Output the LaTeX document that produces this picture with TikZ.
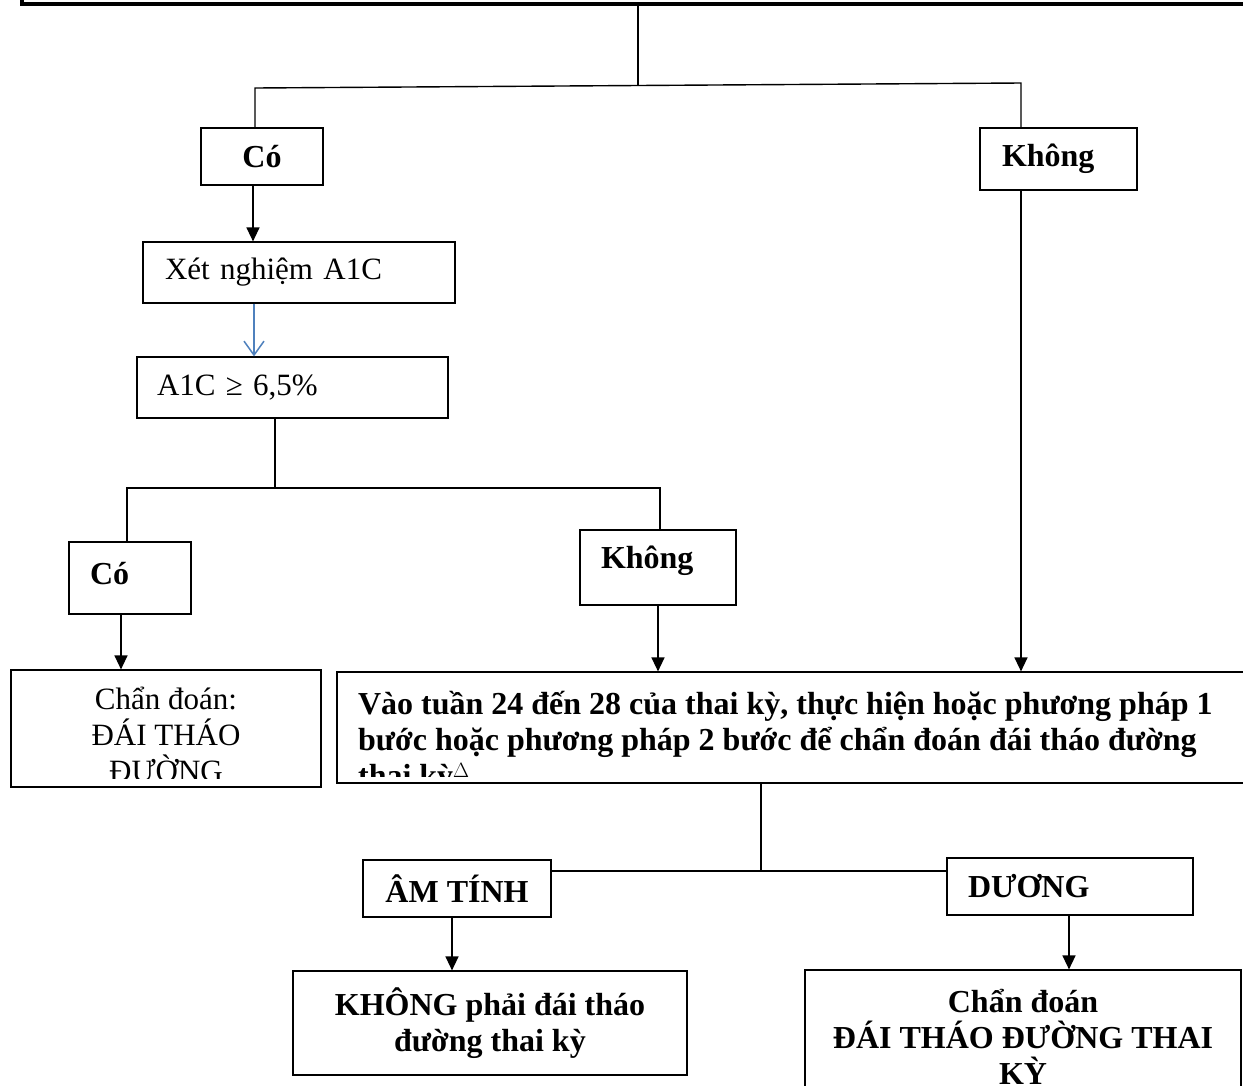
\documentclass[tikz,border=0pt]{standalone}
\usepackage{fontspec}
\setmainfont{Liberation Serif}
\usetikzlibrary{arrows.meta}
\tikzset{>={Triangle[width=13pt,length=14pt]}}
\definecolor{arrowblue}{RGB}{79,129,189}

\begin{document}
\begin{tikzpicture}[x=1pt, y=-1pt, line width=1.4pt,
    box/.style={draw, line width=1.2pt, inner ysep=0pt},
    txt/.style={font=\fontsize{31}{36}\selectfont},
    btxt/.style={font=\fontsize{32}{36}\selectfont\bfseries}]
  \useasboundingbox (0,0) rectangle (1243,1085);
  % frame at the top
  \draw[line width=4pt] (22,-60) rectangle (1300,4);
  \coordinate (top) at (638,4);
  % boxes
  \node[box, btxt, minimum width=122pt, minimum height=57pt] (co1) at (262,156.5) {Có};
  \node[box, btxt, minimum height=62pt, text width=113pt, inner xsep=22pt, align=left] (khong1) at (1058.5,159) {Không};
  \node[box, txt, minimum height=61pt, text width=268pt, inner xsep=22pt, align=left] (xet) at (299,272.5) {Xét nghiệm A1C};
  \node[box, txt, minimum height=61pt, text width=271pt, inner xsep=20pt, align=left] (a1c) at (292.5,387.5) {A1C ≥ 6,5\%};
  \node[box, btxt, minimum height=72pt, text width=80pt, inner xsep=21pt, text depth=10pt, align=left] (co2) at (130,578) {Có};
  \node[box, btxt, minimum height=75pt, text width=114pt, inner xsep=21pt, text depth=20pt, align=left] (khong2) at (658,567.5) {Không};
  \node[box, minimum width=310pt, minimum height=117pt] (diag) at (166,728.5) {};
  \node[box, minimum width=923pt, minimum height=111pt] (vao) at (798.5,727.5) {};
  \node[box, btxt, minimum width=188pt, minimum height=57pt] (am) at (457,888.5) {ÂM TÍNH};
  \node[box, btxt, minimum height=57pt, text width=204pt, inner xsep=21pt, align=left] (duong) at (1070,886.5) {DƯƠNG};
  \node[box, btxt, minimum width=394pt, minimum height=104pt, align=center] (khongdtd) at (490,1023) {KHÔNG phải đái tháo\\đường thai kỳ};
  \node[box, btxt, minimum width=436pt, minimum height=134pt, align=center] (dtd) at (1023,1037) {Chẩn đoán\\ĐÁI THÁO ĐƯỜNG THAI\\KỲ};
  % texts that run past their boxes
  \begin{scope}
    \clip (diag.north west) rectangle ([yshift=9pt]diag.south east);
    \node[txt, anchor=north, align=center, inner sep=0pt] (diagtext)
      at ([yshift=-17pt]diag.north) {Chẩn đoán:\\ĐÁI THÁO\\ĐƯỜNG};
  \end{scope}
  \begin{scope}
    \clip (vao.north west) rectangle ([yshift=7pt]vao.south east);
    \node[btxt, anchor=north west, align=left, inner sep=0pt] (vaotext)
      at ([xshift=21pt, yshift=-19pt]vao.north west)
      {Vào tuần 24 đến 28 của thai kỳ, thực hiện hoặc phương pháp 1\\bước hoặc phương pháp 2 bước để chẩn đoán đái tháo đường\\thai kỳ$^{\Delta}$};
  \end{scope}
  % first split
  \coordinate (split1) at (638,85.5);
  \coordinate (bar1l) at (255,88);
  \coordinate (bar1r) at (1021,83);
  \draw (top) -- (split1);
  \draw (bar1l |- co1.north) -- (bar1l) -- (bar1r) -- (bar1r |- khong1.north);
  \draw[->] ([xshift=-9pt]co1.south) -- ([xshift=-9pt]co1.south |- xet.north);
  \draw[-{Straight Barb[width=20pt,length=14pt]}, arrowblue, line width=1.5pt] (xet.south -| 254,0) -- (a1c.north -| 254,0);
  % second split
  \coordinate (split2) at (275,488);
  \coordinate (bar2l) at (127,488);
  \coordinate (bar2r) at (660,488);
  \draw (a1c.south -| split2) -- (split2);
  \draw (bar2l |- co2.north) -- (bar2l) -- (bar2r) -- (bar2r |- khong2.north);
  \draw[->] (co2.south -| 121,0) -- (diag.north -| 121,0);
  \draw[->] (khong2.south) -- (khong2.south |- vao.north);
  \draw[->] (khong1.south -| 1021,0) -- (vao.north -| 1021,0);
  % third split
  \coordinate (split3) at (761,871);
  \draw (vao.south -| split3) -- (split3);
  \draw (am.east |- split3) -- (duong.west |- split3);
  \draw[->] (am.south -| 452,0) -- (khongdtd.north -| 452,0);
  \draw[->] (duong.south -| 1069,0) -- (dtd.north -| 1069,0);
\end{tikzpicture}
\end{document}
